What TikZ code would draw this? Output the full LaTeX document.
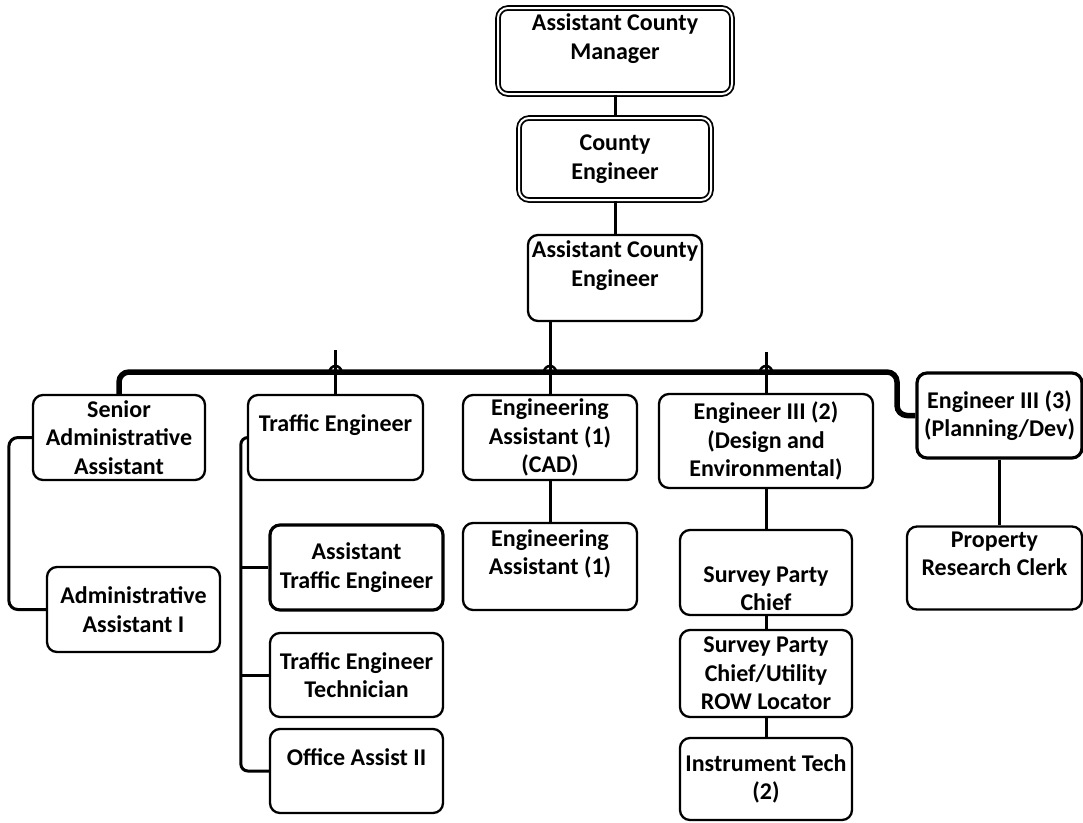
\documentclass[tikz,border=0pt]{standalone}
\usepackage{fontspec}
\setmainfont{Carlito}
\usepackage{tikz}

\begin{document}
\begin{tikzpicture}[x=1pt, y=-1pt,
    post/.style={draw, line width=2.3pt, rounded corners=10pt, align=center, inner sep=0pt,
      minimum width=173pt, minimum height=85pt, font=\bfseries\fontsize{24}{28.5}\selectfont},
    head/.style={post, double, double distance=2pt, line width=1.8pt},
    lead/.style={post, line width=3.2pt},
    link/.style={line width=3pt},
    bus/.style={line width=5.5pt, rounded corners=10pt}]

  \useasboundingbox (0,0) rectangle (1083,822);

  % top of the chain
  \node[head, minimum width=234pt, minimum height=86pt] (acm) at (615,51) {Assistant County\\Manager\\\mbox{}};
  \node[head, minimum width=192pt, minimum height=82pt] (ce) at (615,159) {County\\Engineer};
  \node[post, minimum width=174pt, minimum height=86pt] (ace) at (615,278) {Assistant County\\Engineer\\\mbox{}};

  % divisions
  \node[post, minimum width=172pt] (senior) at (119,437.5) {Senior\\Administrative\\Assistant};
  \node[post, minimum width=175pt] (traffic) at (335.5,437.5) {Traffic Engineer\\\mbox{}};
  \node[post, minimum width=174pt] (cad) at (550,437.5) {Engineering\\Assistant (1)\\(CAD)};
  \node[post, minimum width=214pt, minimum height=94pt] (design) at (766,441) {Engineer III (2)\\(Design and\\Environmental)};
  \node[lead, minimum width=165pt] (planning) at (999.5,415.5) {Engineer III (3)\\(Planning/Dev)};

  % staff below each division
  \node[post] (admin) at (133.5,609.5) {Administrative\\Assistant I};
  \node[lead] (atraffic) at (356.5,567.5) {Assistant\\Traffic Engineer};
  \node[post, minimum height=84pt] (tech) at (356.5,675) {Traffic Engineer\\Technician};
  \node[post, minimum height=84pt] (office) at (356.5,771) {Office Assist II\\\mbox{}};
  \node[post, minimum width=174pt, minimum height=87pt] (engasst) at (550,566.5) {Engineering\\Assistant (1)\\\mbox{}};
  \node[post, minimum width=172pt] (survey) at (766,572.5) {\strut\\Survey Party\\Chief};
  \node[post, minimum width=172pt, minimum height=87pt] (surveyu) at (766,673.5) {Survey Party\\Chief/Utility\\ROW Locator};
  \node[post, minimum width=172pt, minimum height=82pt] (instr) at (766,779) {Instrument Tech\\(2)};
  \node[post, minimum width=175pt, minimum height=83pt] (prc) at (994.5,568) {Property\\Research Clerk\\\mbox{}};

  \coordinate (tick1) at (335.5,350);
  \coordinate (tick3) at (766,352);
  \coordinate (step) at (897,372);

  \draw[link] (acm.south) -- (ce.north);
  \draw[link] (ce.south) -- (ace.north);
  \draw[bus] (senior.north) |- (step) |- (planning.west);
  \draw[link] (ace.south -| cad.north) -- (cad.north);
  \draw[link] (tick1) -- (traffic.north);
  \draw[link] (tick3) -- (design.north);
  \foreach \x in {335.5,550,766}
    \draw[line width=2.5pt] (\x-6,372) arc[start angle=180, end angle=0, radius=6pt];

  \draw[link, rounded corners=9pt] (senior.west) -- ++(-23,0) |- (admin.west);
  \draw[link, rounded corners=7pt] (traffic.west) -- ++(-6,0) |- (office.west);
  \draw[link] (atraffic.west) -- ++(-28,0);
  \draw[link] (tech.west) -- ++(-28,0);
  \draw[link] (cad.south) -- (engasst.north);
  \draw[link] (design.south) -- (survey.north);
  \draw[link] (survey.south) -- (surveyu.north);
  \draw[link] (surveyu.south) -- (instr.north);
  \draw[link] (planning.south) -- (planning.south |- prc.north);
\end{tikzpicture}
\end{document}
